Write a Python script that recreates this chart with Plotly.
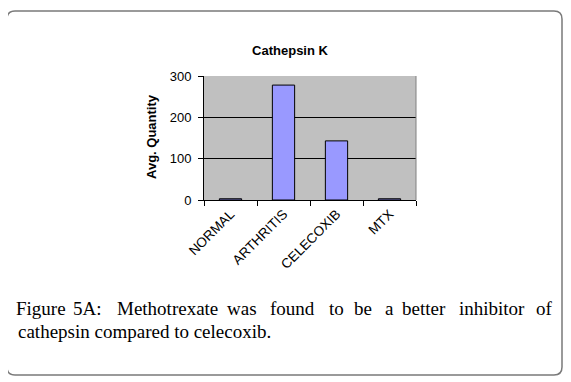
import plotly.graph_objects as go

categories = ["NORMAL", "ARTHRITIS", "CELECOXIB", "MTX"]
avg_quantity = [3, 278, 143, 3]
y_ticks = [0, 100, 200, 300]
chart_title = "Cathepsin K"
y_title = "Avg. Quantity"
caption_line1 = ["Figure", "5A:", "Methotrexate", "was", "found", "to", "be", "a", "better", "inhibitor", "of"]
caption_line2 = "cathepsin compared to celecoxib."

OFF = 8  # page body margin
W, H = 571 - OFF, 382 - OFF
L, R, T, B = 204, 416, 76, 200  # plot area in window pixels


def px(xpix):
    return (xpix - L) / (R - L)


def py(ypix):
    return (B - ypix) / (B - T)


fig = go.Figure()
fig.add_trace(go.Bar(
    x=categories, y=avg_quantity,
    marker=dict(color="#9999FF", line=dict(color="black", width=1)),
    hoverinfo="skip",
))

serif = "Liberation Serif, Times New Roman, serif"
annotations = []
annotations.append(dict(
    text=f"<b>{y_title}</b>", xref="paper", yref="paper",
    x=px(151), y=py(137), xanchor="center", yanchor="middle",
    textangle=-90, showarrow=False,
    font=dict(family="Arial, Liberation Sans", size=13, color="black"),
))
word_cx = [41, 87.5, 167.5, 241.5, 292, 336.5, 363, 389, 424, 491.5, 544]
for w, xp in zip(caption_line1, word_cx):
    annotations.append(dict(
        text=w, xref="paper", yref="paper", x=px(xp - OFF + 8), y=py(308.5),
        xanchor="center", yanchor="middle", showarrow=False,
        font=dict(family=serif, size=19, color="black"),
    ))
annotations.append(dict(
    text=caption_line2, xref="paper", yref="paper", x=px(16), y=py(331.5),
    xanchor="left", yanchor="middle", showarrow=False,
    font=dict(family=serif, size=19, color="black"),
))

x0, x1, y0, y1, r = px(7), px(562), py(11), py(375), 8
rx, ry = r / (R - L), r / (B - T)
frame_path = (
    f"M {x0 + rx},{y0} L {x1 - rx},{y0} Q {x1},{y0} {x1},{y0 - ry} "
    f"L {x1},{y1 + ry} Q {x1},{y1} {x1 - rx},{y1} "
    f"L {x0 + rx},{y1} Q {x0},{y1} {x0},{y1 + ry} "
    f"L {x0},{y0 - ry} Q {x0},{y0} {x0 + rx},{y0} Z"
)
shapes = [
    dict(type="path", xref="paper", yref="paper", path=frame_path,
         line=dict(color="#7a7a7a", width=1.5), layer="above"),
    dict(type="line", xref="paper", yref="paper", x0=1, x1=1, y0=0, y1=1,
         line=dict(color="#808080", width=1)),
]

fig.update_layout(
    width=W, height=H,
    margin=dict(l=L - OFF, r=W - (R - OFF), t=T - OFF, b=H - (B - OFF), pad=0),
    paper_bgcolor="white", plot_bgcolor="#C0C0C0",
    showlegend=False, bargap=0.58,
    title=dict(text=f"<b>{chart_title}</b>", x=px(290), xref="paper", xanchor="center",
               y=1 - (50 - OFF) / H, yref="container", yanchor="middle",
               font=dict(family="Arial, Liberation Sans", size=13, color="black")),
    xaxis=dict(showline=True, linecolor="black", linewidth=1, ticks="outside",
               tickson="boundaries", ticklen=5, tickcolor="black", tickangle=-45,
               showgrid=False,
               tickfont=dict(family="Arial, Liberation Sans", size=13.5, color="black")),
    yaxis=dict(range=[0, 300], tickvals=y_ticks, showline=True, linecolor="black",
               linewidth=1, ticks="outside", ticklen=5, tickcolor="black",
               showgrid=True, gridcolor="black", gridwidth=1, zeroline=False,
               ticklabelstandoff=4,
               tickfont=dict(family="Arial, Liberation Sans", size=13, color="black")),
    annotations=annotations, shapes=shapes,
)

fig.write_html("out.html")
